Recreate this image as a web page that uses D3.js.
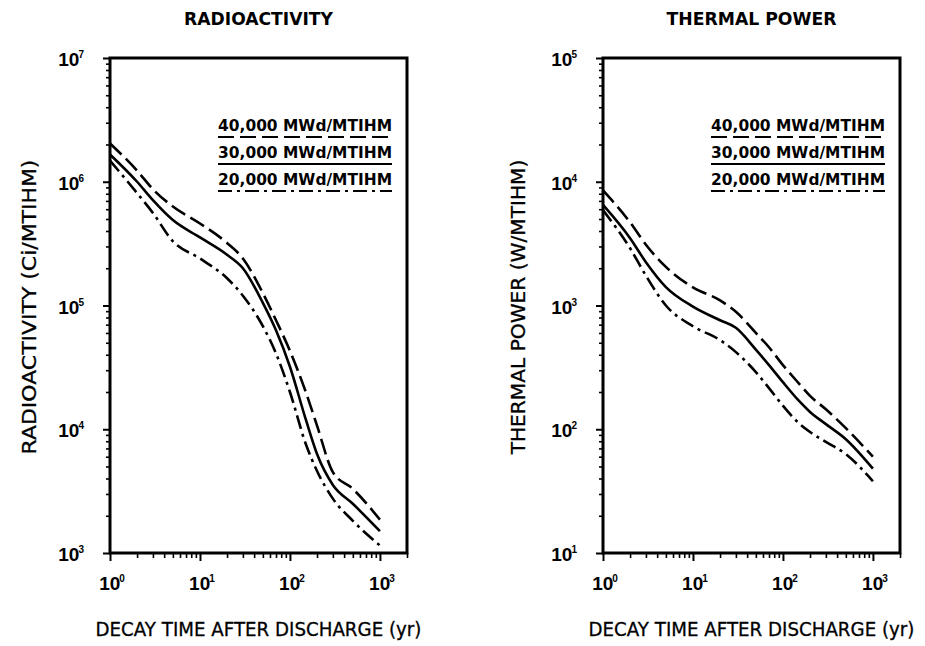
<!DOCTYPE html>
<html>
<head>
<meta charset="utf-8">
<script src="https://cdn.jsdelivr.net/npm/d3@7"></script>
<style>
  body { margin: 0; background: #fff; }
  svg { display: block; }
</style>
</head>
<body>
<script>
const w = 925;
const h = 646;

// decay time after discharge (yr)
const decayYears = [1, 2, 3, 5, 10, 20, 30, 50, 70, 100, 150, 200, 300, 500, 1000];

// radioactivity, Ci/MTIHM
const radio40k = [2.04e6, 1.23e6, 8.7e5, 6.3e5, 4.6e5, 3.2e5, 2.4e5, 1.26e5, 7.6e4, 4.3e4, 2.0e4, 1.07e4, 4.5e3, 3.3e3, 1.86e3];
const radio30k = [1.66e6, 1.0e6, 7.1e5, 4.9e5, 3.55e5, 2.57e5, 2.0e5, 1.05e5, 6.3e4, 3.2e4, 1.2e4, 6.3e3, 3.55e3, 2.5e3, 1.5e3];
const radio20k = [1.48e6, 8.1e5, 5.6e5, 3.3e5, 2.4e5, 1.66e5, 1.2e5, 6.8e4, 4.1e4, 2.0e4, 7.6e3, 4.6e3, 2.75e3, 1.82e3, 1.15e3];

// thermal power, W/MTIHM
const heat40k = [8.5e3, 4.7e3, 3.1e3, 2.05e3, 1.4e3, 1.1e3, 890, 600, 460, 330, 235, 186, 145, 102, 60];
const heat30k = [6.5e3, 3.5e3, 2.24e3, 1.41e3, 980, 760, 660, 440, 330, 240, 170, 138, 110, 83, 48];
const heat20k = [5.9e3, 2.9e3, 1.74e3, 1.0e3, 680, 525, 420, 290, 215, 155, 112, 95, 79, 63, 38];

const burnupLabels = ["40,000 MWd/MTIHM", "30,000 MWd/MTIHM", "20,000 MWd/MTIHM"];
const xTickExps = [0, 1, 2, 3];
const radioTickExps = [3, 4, 5, 6, 7];
const heatTickExps = [1, 2, 3, 4, 5];

// 40k dashed, 30k solid, 20k dash-dot
const dashes = ["16,6", null, "14,5,3,5"];

const svg = d3.select("body").append("svg")
  .attr("width", w)
  .attr("height", h)
  .style("background", "#fff");

const minorTicks = (lo, hi) => {
  const out = [];
  for (let e = lo; e < hi; e++) {
    for (let k = 2; k <= 9; k++) out.push(k * Math.pow(10, e));
  }
  return out;
};

const tickFont = "'Liberation Sans', Arial, sans-serif";
const labelFont = "'DejaVu Sans', sans-serif";

// squeeze a text horizontally to a given width (scale instead of textLength)
const fitText = (txt, x, y, width, rot) => {
  const natural = txt.node().getComputedTextLength();
  const sx = width / natural;
  txt.attr("transform",
    "translate(" + x + "," + y + ")" + (rot ? " rotate(" + rot + ")" : "") + " scale(" + sx + ",1)");
};

const drawPanel = (p) => {
  const g = svg.append("g");

  const xScale = d3.scaleLog().domain([1, 2000]).range([p.left, p.right]);
  const yScale = d3.scaleLog()
    .domain([Math.pow(10, p.yExps[0]), Math.pow(10, p.yExps[p.yExps.length - 1])])
    .range([p.bottom, p.top]);

  // x axis ticks (outward, below)
  const xMinor = minorTicks(0, 3).concat([2000]);
  g.append("g")
    .attr("transform", "translate(0," + p.bottom + ")")
    .call(d3.axisBottom(xScale).tickValues(xMinor).tickSize(5).tickFormat(""))
    .call((a) => a.select(".domain").remove())
    .selectAll("line").attr("stroke-width", 1.6);
  g.append("g")
    .attr("transform", "translate(0," + p.bottom + ")")
    .call(d3.axisBottom(xScale).tickValues(xTickExps.map((e) => Math.pow(10, e))).tickSize(8).tickFormat(""))
    .call((a) => a.select(".domain").remove())
    .selectAll("line").attr("stroke-width", 2);

  // y axis ticks (outward, left)
  const yMinor = minorTicks(p.yExps[0], p.yExps[p.yExps.length - 1]);
  g.append("g")
    .attr("transform", "translate(" + p.left + ",0)")
    .call(d3.axisLeft(yScale).tickValues(yMinor).tickSize(4).tickFormat(""))
    .call((a) => a.select(".domain").remove())
    .selectAll("line").attr("stroke-width", 1.6);
  g.append("g")
    .attr("transform", "translate(" + p.left + ",0)")
    .call(d3.axisLeft(yScale).tickValues(p.yExps.map((e) => Math.pow(10, e))).tickSize(7).tickFormat(""))
    .call((a) => a.select(".domain").remove())
    .selectAll("line").attr("stroke-width", 2);

  // frame
  g.append("rect")
    .attr("x", p.left)
    .attr("y", p.top)
    .attr("width", p.right - p.left)
    .attr("height", p.bottom - p.top)
    .attr("fill", "none")
    .attr("stroke", "#000")
    .attr("stroke-width", 3);

  // tick labels 10^n
  const xl = g.selectAll(".xlab").data(xTickExps).enter().append("text")
    .attr("class", "xlab")
    .attr("x", (e) => xScale(Math.pow(10, e)) + 2)
    .attr("y", p.bottom + 37)
    .attr("text-anchor", "middle")
    .style("font-family", tickFont)
    .style("font-weight", "bold")
    .style("font-size", "19px");
  xl.append("tspan").text("10");
  xl.append("tspan").attr("dx", -1).attr("dy", -8).style("font-size", "10px").text((e) => e);

  const yl = g.selectAll(".ylab").data(p.yExps).enter().append("text")
    .attr("class", "ylab")
    .attr("x", p.left - 26)
    .attr("y", (e) => yScale(Math.pow(10, e)) + 8)
    .attr("text-anchor", "end")
    .style("font-family", tickFont)
    .style("font-weight", "bold")
    .style("font-size", "19px");
  yl.append("tspan").text("10");
  yl.append("tspan").attr("dx", -1).attr("dy", -8).style("font-size", "10px").text((e) => e);

  // curves
  const line = d3.line()
    .x((d) => xScale(d[0]))
    .y((d) => yScale(d[1]))
    .curve(d3.curveMonotoneX);

  p.series.forEach((vals, i) => {
    g.append("path")
      .datum(decayYears.map((t, j) => [t, vals[j]]))
      .attr("d", line)
      .attr("fill", "none")
      .attr("stroke", "#000")
      .attr("stroke-width", 2.6)
      .attr("stroke-dasharray", dashes[i]);
  });

  // legend
  burnupLabels.forEach((lab, i) => {
    const ly = 131 + i * 27;
    const lx1 = p.right - 15;
    const lw = 174;
    const t = g.append("text")
      .attr("text-anchor", "end")
      .style("font-family", labelFont)
      .style("font-weight", "bold")
      .style("font-size", "16px")
      .text(lab);
    fitText(t, lx1, ly, lw);
    g.append("line")
      .attr("x1", lx1 - lw)
      .attr("x2", lx1)
      .attr("y1", ly + 6)
      .attr("y2", ly + 6)
      .attr("stroke", "#000")
      .attr("stroke-width", 2.2)
      .attr("stroke-dasharray", dashes[i]);
  });

  // title
  const cx = (p.left + p.right) / 2;
  const tt = g.append("text")
    .attr("text-anchor", "middle")
    .style("font-family", labelFont)
    .style("font-weight", "bold")
    .style("font-size", "17px")
    .text(p.title);
  fitText(tt, cx, 25, p.titleLen);

  // x label
  const xt = g.append("text")
    .attr("text-anchor", "middle")
    .style("font-family", labelFont)
    .style("font-size", "19px")
    .style("stroke", "#000")
    .style("stroke-width", 0.3)
    .text("DECAY TIME AFTER DISCHARGE (yr)");
  fitText(xt, cx, 636, 326);

  // y label
  const yt = g.append("text")
    .attr("text-anchor", "middle")
    .style("font-family", labelFont)
    .style("font-size", "19px")
    .style("stroke", "#000")
    .style("stroke-width", 0.3)
    .text(p.yLabel);
  fitText(yt, p.yLabelX, 307, 295, -90);
};

drawPanel({
  left: 110, right: 407, top: 58, bottom: 553,
  yExps: radioTickExps,
  series: [radio40k, radio30k, radio20k],
  title: "RADIOACTIVITY", titleLen: 149,
  yLabel: "RADIOACTIVITY (Ci/MTIHM)", yLabelX: 36
});

drawPanel({
  left: 603, right: 900, top: 58, bottom: 553,
  yExps: heatTickExps,
  series: [heat40k, heat30k, heat20k],
  title: "THERMAL POWER", titleLen: 170,
  yLabel: "THERMAL POWER (W/MTIHM)", yLabelX: 525
});
</script>
</body>
</html>
